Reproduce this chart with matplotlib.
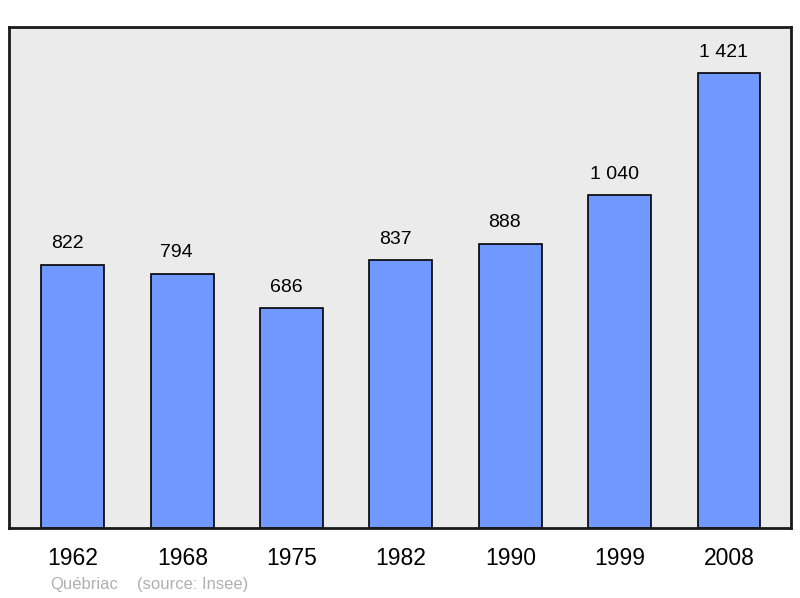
import matplotlib
matplotlib.use("Agg")
import matplotlib.pyplot as plt

years = ["1962", "1968", "1975", "1982", "1990", "1999", "2008"]
population = [822, 794, 686, 837, 888, 1040, 1421]
value_labels = ["822", "794", "686", "837", "888", "1 040", "1 421"]

plt.rcParams['font.family'] = ['Liberation Sans', 'DejaVu Sans']

fig = plt.figure(figsize=(8, 5.98), dpi=100)
ax = fig.add_axes([9 / 800, 70 / 598, 782 / 800, 501 / 598])
ax.set_facecolor("#ebebeb")

x = list(range(len(years)))
ax.bar(x, population, width=0.576, color="#7098ff", edgecolor="black", linewidth=1.2, zorder=2)

# value labels above bars (slightly left of centre, as in the original)
for xi, v, lab in zip(x, population, value_labels):
    ax.annotate(lab, (xi, v), xytext=(-4, 9), textcoords="offset points",
                ha="center", va="bottom", fontsize=14)

ax.set_xlim(-0.585, 6.567)
ax.set_ylim(0, 1565)
ax.set_yticks([])
ax.set_xticks(x)
ax.set_xticklabels(years, fontsize=16.5)
ax.tick_params(axis="x", length=0, pad=14)

for s in ax.spines.values():
    s.set_linewidth(2)
    s.set_color("#1a1a1a")

fig.text(50 / 800, 1 - 584 / 598, "Québriac", color="#b0b0b0", fontsize=12, va="center")
fig.text(137 / 800, 1 - 584 / 598, "(source: Insee)", color="#b0b0b0", fontsize=12, va="center")

fig.savefig("out.png", dpi=100)
